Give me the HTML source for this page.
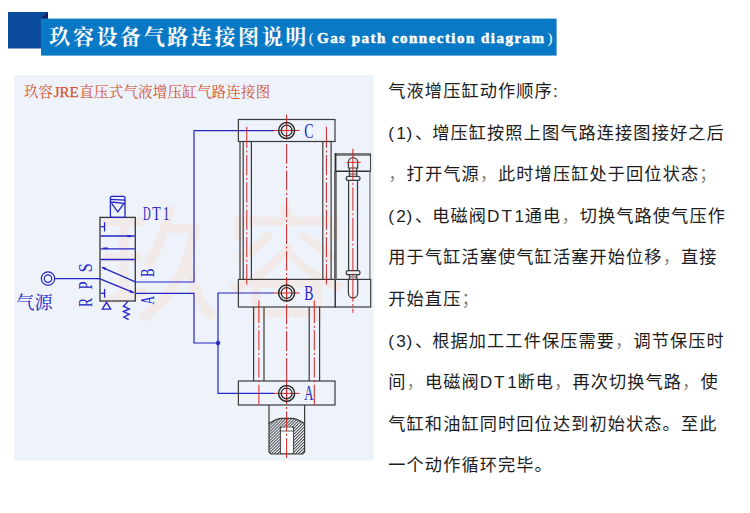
<!DOCTYPE html>
<html lang="zh"><head><meta charset="utf-8"><title>玖容设备气路连接图说明</title>
<style>
html,body{margin:0;padding:0;background:#fff}
body{width:750px;height:513px;position:relative;overflow:hidden;font-family:"Liberation Sans",sans-serif}
.t h1,.t p{position:absolute;margin:0;color:transparent;font-size:17px;letter-spacing:1px;line-height:1;font-weight:normal;white-space:nowrap}
</style></head><body>
<svg width="750" height="513" viewBox="0 0 750 513" style="position:absolute;left:0;top:0"><rect x="8" y="12" width="40" height="36.5" fill="#0c4c9f"/><path d="M41 18.6L48 12V18.6Z" fill="#1a1d5c"/><rect x="41" y="18.6" width="515.6" height="37" fill="#0a79c5"/><text x="49.3" y="43.9" font-size="21" font-weight="bold" letter-spacing="2.6" fill="#fff" font-family="'Liberation Serif','Noto Serif CJK SC',serif">玖容设备气路连接图说明</text><text x="308.8" y="43" font-size="15" fill="#fff" font-family="'Liberation Serif','Noto Serif CJK SC',serif">(</text><text x="547.5" y="43" font-size="15" fill="#fff" font-family="'Liberation Serif','Noto Serif CJK SC',serif">)</text><text x="317" y="43" font-size="15" font-weight="bold" letter-spacing="1.47" fill="#fff" stroke="#fff" stroke-width="0.5" font-family="'Liberation Serif',serif">Gas path connection diagram</text><rect x="14" y="75" width="359.8" height="385.6" fill="#eef2fb"/><text x="97" y="311" font-size="125" letter-spacing="2" fill="#f2eae8" font-family="'Liberation Sans','Noto Sans CJK SC',sans-serif">玖容</text><text x="23.9" y="97.3" font-size="14.5" letter-spacing="0.2" fill="#cf5430" font-family="'Liberation Serif','Noto Serif CJK SC',serif">玖容</text><text x="53.7" y="97.2" font-size="15" fill="#cf5430" stroke="#cf5430" stroke-width="0.25" font-family="'Liberation Serif',serif">JRE</text><text x="79.3" y="97.3" font-size="14.5" letter-spacing="0.2" fill="#cf5430" font-family="'Liberation Serif','Noto Serif CJK SC',serif">直压式气液增压缸气路连接图</text><circle cx="48" cy="278.6" r="6.7" stroke="#2424c4" stroke-width="1.2" fill="none"/><circle cx="48" cy="278.6" r="3.7" stroke="#2424c4" stroke-width="1.2" fill="none"/><path d="M54.7 278.6L100 278.6" stroke="#2424c4" stroke-width="1.2" fill="none"/><path d="M135.4 282L194 282L194 130.5L274 130.6" stroke="#2424c4" stroke-width="1.2" fill="none"/><path d="M135.4 293.3L194 293.3L194 343L218 343" stroke="#2424c4" stroke-width="1.2" fill="none"/><path d="M274 293L218 293L218 393.4L274 393.4" stroke="#2424c4" stroke-width="1.2" fill="none"/><circle cx="218" cy="343" r="2" stroke="#2424c4" stroke-width="0.5" fill="#2424c4"/><rect x="100" y="217.4" width="35.3" height="83.6" stroke="#363636" stroke-width="1.3" fill="none"/><rect x="110.4" y="196.4" width="14.6" height="21" rx="1.3" stroke="#2424c4" stroke-width="1.3" fill="none"/><path d="M110.4 199.4L125 200.2" stroke="#2424c4" stroke-width="1.3" fill="none"/><path d="M110.4 202L125 203.4" stroke="#2424c4" stroke-width="1.3" fill="none"/><path d="M111.6 203.4L117.8 212L124 203.4" stroke="#2424c4" stroke-width="1.3" fill="none"/><path d="M100.6 236L134.7 236" stroke="#2424c4" stroke-width="1.3" fill="none"/><path d="M100.6 248.8L134.7 248.8" stroke="#2424c4" stroke-width="1.3" fill="none"/><path d="M100.6 259.5L134.7 259.5" stroke="#2424c4" stroke-width="1.3" fill="none"/><path d="M127.2 236.3L131 236.3" stroke="#2424c4" stroke-width="1.7" fill="none"/><path d="M103.3 248.3L107.7 248.3" stroke="#2424c4" stroke-width="1.7" fill="none"/><path d="M100.6 226.7L104.6 226.7" stroke="#2424c4" stroke-width="1.3" fill="none"/><path d="M104.6 222.3L104.6 231.5" stroke="#2424c4" stroke-width="1.3" fill="none"/><path d="M100.6 293.3L104.6 293.3" stroke="#2424c4" stroke-width="1.3" fill="none"/><path d="M104.6 289L104.6 297.7" stroke="#2424c4" stroke-width="1.3" fill="none"/><path d="M102 267.3L135.3 281.8" stroke="#2424c4" stroke-width="1.3" fill="none"/><path d="M102 267.3L106 267.7L105 270Z" stroke="#2424c4" stroke-width="0.3" fill="#2424c4"/><path d="M100 278.8L133.6 292.6" stroke="#2424c4" stroke-width="1.3" fill="none"/><path d="M133.8 292.7L129.8 292.4L130.8 290Z" stroke="#2424c4" stroke-width="0.3" fill="#2424c4"/><path d="M102.3 309.2L110.7 309.2L106.5 302.3Z" stroke="#2424c4" stroke-width="1.3" fill="none"/><path d="M128 301.4L123.4 306.2L129.3 308.9L123.4 311.6L129.3 314.3L123.8 317L128.6 319.6" stroke="#2424c4" stroke-width="1.3" fill="none"/><rect x="238.4" y="119.5" width="96.6" height="22" stroke="#3a3a3a" stroke-width="1.2" fill="none"/><path d="M240 141.5L240 279.4" stroke="#3a3a3a" stroke-width="1.2" fill="none"/><path d="M243.2 141.5L243.2 279.4" stroke="#3a3a3a" stroke-width="1.2" fill="none"/><path d="M251.4 141.5L251.4 279.4" stroke="#3a3a3a" stroke-width="1.2" fill="none"/><path d="M322.8 141.5L322.8 279.4" stroke="#3a3a3a" stroke-width="1.2" fill="none"/><path d="M331.1 141.5L331.1 279.4" stroke="#3a3a3a" stroke-width="1.2" fill="none"/><rect x="238.4" y="279.4" width="96.9" height="27.6" stroke="#3a3a3a" stroke-width="1.2" fill="none"/><rect x="335.3" y="279.4" width="35.4" height="27.6" stroke="#3a3a3a" stroke-width="1.2" fill="none"/><path d="M253.6 307L253.6 381" stroke="#3a3a3a" stroke-width="1.2" fill="none"/><path d="M264 307L264 381" stroke="#3a3a3a" stroke-width="1.2" fill="none"/><path d="M319.6 307L319.6 381" stroke="#3a3a3a" stroke-width="1.2" fill="none"/><path d="M309.2 307L309.2 381" stroke="#3a3a3a" stroke-width="1.2" fill="none"/><rect x="238.4" y="381" width="96.6" height="24" stroke="#3a3a3a" stroke-width="1.2" fill="none"/><defs><pattern id="h" width="2.1" height="2.1" patternUnits="userSpaceOnUse" patternTransform="rotate(-45)"><rect width="2.1" height="0.95" fill="#484848"/></pattern></defs><path d="M269 423.6Q277 418.3 282 418.3H291.5Q296.5 418.3 304.6 423.6V452L302.6 454H271L269 452Z" fill="url(#h)" stroke="#3a3a3a" stroke-width="1.2"/><path d="M269 405L269 424" stroke="#3a3a3a" stroke-width="1.2" fill="none"/><path d="M304.6 405L304.6 424" stroke="#3a3a3a" stroke-width="1.2" fill="none"/><rect x="280.4" y="427.2" width="13.2" height="26.3" fill="#eef2fb" stroke="#3a3a3a" stroke-width="0.9"/><rect x="282" y="427.6" width="10" height="25.6" fill="#fff"/><path d="M280.4 431L293.6 431" stroke="#3a3a3a" stroke-width="0.8" fill="none"/><rect x="336" y="153.1" width="34.6" height="2.7" fill="#707070"/><path d="M335.5 153.1L335.5 171.3" stroke="#2e2e2e" stroke-width="1.8" fill="none"/><path d="M335.4 171.3L335.4 279.4" stroke="#686868" stroke-width="2.8" fill="none"/><path d="M370.5 153.6L370.5 171.3" stroke="#444" stroke-width="1.1" fill="none"/><path d="M335 171.3L371 171.3" stroke="#333" stroke-width="1.4" fill="none"/><path d="M369.9 171.3L369.9 279.4" stroke="#6a6a6a" stroke-width="1.1" fill="none"/><path d="M348.4 168V162.2A4.65 4.65 0 0 1 357.7 162.2V168Z" stroke="#3a3a3a" stroke-width="1.2" fill="none"/><path d="M349.4 168L349.4 176.3" stroke="#3a3a3a" stroke-width="1.2" fill="none"/><path d="M356.8 168L356.8 176.3" stroke="#3a3a3a" stroke-width="1.2" fill="none"/><path d="M349.4 174L356.8 174" stroke="#3a3a3a" stroke-width="0.9" fill="none"/><rect x="346.2" y="176.3" width="13.8" height="4.1" rx="2" stroke="#3a3a3a" stroke-width="1.2" fill="none"/><path d="M348.6 180.4L348.6 270.6" stroke="#3a3a3a" stroke-width="1.2" fill="none"/><path d="M357.5 180.4L357.5 270.6" stroke="#3a3a3a" stroke-width="1.2" fill="none"/><rect x="346.2" y="270.6" width="13.8" height="4.1" rx="2" stroke="#3a3a3a" stroke-width="1.2" fill="none"/><path d="M349.4 274.7L349.4 279.4" stroke="#3a3a3a" stroke-width="1.2" fill="none"/><path d="M356.8 274.7L356.8 279.4" stroke="#3a3a3a" stroke-width="1.2" fill="none"/><path d="M349.4 277L356.8 277" stroke="#3a3a3a" stroke-width="0.9" fill="none"/><path d="M348.4 279.4V293.3A4.65 4.65 0 0 0 357.7 293.3V279.4" stroke="#3a3a3a" stroke-width="1.2" fill="none"/><path d="M286.6 144V163.75M286.6 166.25V168.25M286.6 170.75V190.5M286.6 193V195M286.6 197.5V217.25M286.6 219.75V221.75M286.6 224.25V244M286.6 246.5V248.5M286.6 251V270.75M286.6 273.25V275.25M286.6 277.75V297.5M286.6 300V302M286.6 304.5V324.25M286.6 326.75V328.75M286.6 331.25V351M286.6 353.5V355.5M286.6 358V377.75M286.6 380.25V382.25M286.6 384.75V404.5M286.6 407V409M286.6 411.5V431.25M286.6 433.75V435.75M286.6 438.25V458" stroke="#d42424" stroke-width="1.0" fill="none"/><path d="M274 130.5L299.6 130.5" stroke="#d42424" stroke-width="1.0" fill="none"/><path d="M286.6 114.5L286.6 139.5" stroke="#d42424" stroke-width="1.0" fill="none"/><path d="M274 293L299.6 293" stroke="#d42424" stroke-width="1.0" fill="none"/><path d="M286.6 277L286.6 302" stroke="#d42424" stroke-width="1.0" fill="none"/><path d="M274 393.4L299.6 393.4" stroke="#d42424" stroke-width="1.0" fill="none"/><path d="M286.6 377.4L286.6 402.4" stroke="#d42424" stroke-width="1.0" fill="none"/><path d="M246.8 126.7V148M246.8 150.5V152.5M246.8 155V175.3M246.8 177.8V179.8M246.8 182.3V202.6M246.8 205.1V207.1M246.8 209.6V229.9M246.8 232.4V234.4M246.8 236.9V257.2M246.8 259.7V261.7M246.8 264.2V284.5" stroke="#d42424" stroke-width="1.0" fill="none"/><path d="M326.4 126.7V148M326.4 150.5V152.5M326.4 155V175.3M326.4 177.8V179.8M326.4 182.3V202.6M326.4 205.1V207.1M326.4 209.6V229.9M326.4 232.4V234.4M326.4 236.9V257.2M326.4 259.7V261.7M326.4 264.2V284.5" stroke="#d42424" stroke-width="1.0" fill="none"/><path d="M258.9 300.5V323.2M258.9 325.7V327.7M258.9 330.2V350.4M258.9 352.9V354.9M258.9 357.4V377.6M258.9 380.1V382.1M258.9 384.6V404.8" stroke="#d42424" stroke-width="1.0" fill="none"/><path d="M314.3 300.5V323.2M314.3 325.7V327.7M314.3 330.2V350.4M314.3 352.9V354.9M314.3 357.4V377.6M314.3 380.1V382.1M314.3 384.6V404.8" stroke="#d42424" stroke-width="1.0" fill="none"/><path d="M352.9 148.8V180.4M352.9 182.9V184.9M352.9 187.4V210.7M352.9 213.2V215.2M352.9 217.7V241M352.9 243.5V245.5M352.9 248V271.3M352.9 273.8V275.8M352.9 278.3V301.6M352.9 304.1V306.1M352.9 308.6V312.8" stroke="#d42424" stroke-width="1.0" fill="none"/><path d="M346.7 162.3L360.7 162.3" stroke="#d42424" stroke-width="1.0" fill="none"/><circle cx="286.6" cy="130.6" r="8" stroke="#2a2a2a" stroke-width="1.5" fill="none"/><circle cx="286.6" cy="130.6" r="5.4" stroke="#2a2a2a" stroke-width="1.25" fill="none"/><circle cx="286.6" cy="293" r="8" stroke="#2a2a2a" stroke-width="1.5" fill="none"/><circle cx="286.6" cy="293" r="5.4" stroke="#2a2a2a" stroke-width="1.25" fill="none"/><circle cx="286.6" cy="393.4" r="8" stroke="#2a2a2a" stroke-width="1.5" fill="none"/><circle cx="286.6" cy="393.4" r="5.4" stroke="#2a2a2a" stroke-width="1.25" fill="none"/><g fill="#2424c4" font-family="'Liberation Serif',serif"><text transform="translate(143,219.9) scale(0.54,1)" font-size="19.5">D</text><text transform="translate(152.2,219.9) scale(0.705,1)" font-size="19.5">T</text><text transform="translate(163,219.9) scale(0.657,1)" font-size="19.5">1</text><text transform="translate(304.2,138) scale(0.689,1)" font-size="20">C</text><text transform="translate(304.2,299.6) scale(0.689,1)" font-size="20">B</text><text transform="translate(304.2,400.3) scale(0.637,1)" font-size="20">A</text><text transform="rotate(-90 154 304.5) translate(154,304.5) scale(0.637,1)" font-size="18.5">A</text><text transform="rotate(-90 154 277) translate(154,277) scale(0.689,1)" font-size="18.5">B</text><text transform="rotate(-90 92 307) translate(92,307) scale(0.73,1)" font-size="18.5">R</text><text transform="rotate(-90 92 289.6) translate(92,289.6) scale(0.777,1)" font-size="18.5">P</text><text transform="rotate(-90 92 272.3) translate(92,272.3) scale(0.875,1)" font-size="18.5">S</text></g><text x="16.2" y="308.8" font-size="18.2" fill="#2424c4" font-family="'Liberation Serif','Noto Serif CJK SC',serif">气源</text><g fill="#1c1c1c" font-size="17.2" letter-spacing="1.1" font-family="'Liberation Sans','Noto Sans CJK SC',sans-serif"><text x="388.3" y="96.5">气液增压缸动作顺序:</text><text x="388.3" y="138.6">(<tspan x="396.2">1</tspan><tspan x="406.4">)</tspan><tspan x="414.9">、</tspan><tspan x="432.2">增压缸按照上图气路连接图接好之后</tspan></text><text x="388.3" y="180.2"><tspan fill-opacity=".6">，</tspan>打开气源<tspan fill-opacity=".6">，</tspan>此时增压缸处于回位状态<tspan fill-opacity=".6">；</tspan></text><text x="388.3" y="221.8">(<tspan x="396.2">2</tspan><tspan x="406.4">)</tspan><tspan x="414.9">、</tspan><tspan x="432.2">电磁阀</tspan><tspan x="487.1">D</tspan><tspan x="501.4">T</tspan><tspan x="514.6">1</tspan><tspan x="524.8">通电</tspan><tspan fill-opacity=".6">，</tspan>切换气路使气压作</text><text x="388.3" y="263.4">用于气缸活塞使气缸活塞开始位移<tspan fill-opacity=".6">，</tspan>直接</text><text x="388.3" y="305">开始直压<tspan fill-opacity=".6">；</tspan></text><text x="388.3" y="346.6">(<tspan x="396.2">3</tspan><tspan x="406.4">)</tspan><tspan x="414.9">、</tspan><tspan x="432.2">根据加工工件保压需要</tspan><tspan fill-opacity=".6">，</tspan>调节保压时</text><text x="388.3" y="388.2">间<tspan fill-opacity=".6">，</tspan>电磁阀<tspan x="479.8">D</tspan><tspan x="494.1">T</tspan><tspan x="507.3">1</tspan><tspan x="517.5">断电</tspan><tspan fill-opacity=".6">，</tspan>再次切换气路<tspan fill-opacity=".6">，</tspan>使</text><text x="388.3" y="429.8">气缸和油缸同时回位达到初始状态。至此</text><text x="388.3" y="470.9">一个动作循环完毕。</text></g></svg>
<div class="t"><h1 style="left:50px;top:24px;font-size:20px;letter-spacing:3px;font-family:'Liberation Serif',serif">玖容设备气路连接图说明</h1>
<p style="left:24px;top:84px;font-size:13px;font-family:'Liberation Serif',serif">玖容JRE直压式气液增压缸气路连接图</p>
<p style="left:17px;top:292px;font-size:17px;font-family:'Liberation Serif',serif">气源</p>
<p style="left:388px;top:82px">气液增压缸动作顺序:</p>
<p style="left:388px;top:123px">(1)、增压缸按照上图气路连接图接好之后</p>
<p style="left:388px;top:165px">，打开气源，此时增压缸处于回位状态；</p>
<p style="left:388px;top:206px">(2)、电磁阀DT1通电，切换气路使气压作</p>
<p style="left:388px;top:248px">用于气缸活塞使气缸活塞开始位移，直接</p>
<p style="left:388px;top:290px">开始直压；</p>
<p style="left:388px;top:331px">(3)、根据加工工件保压需要，调节保压时</p>
<p style="left:388px;top:373px">间，电磁阀DT1断电，再次切换气路，使</p>
<p style="left:388px;top:414px">气缸和油缸同时回位达到初始状态。至此</p>
<p style="left:388px;top:456px">一个动作循环完毕。</p></div>
</body></html>
